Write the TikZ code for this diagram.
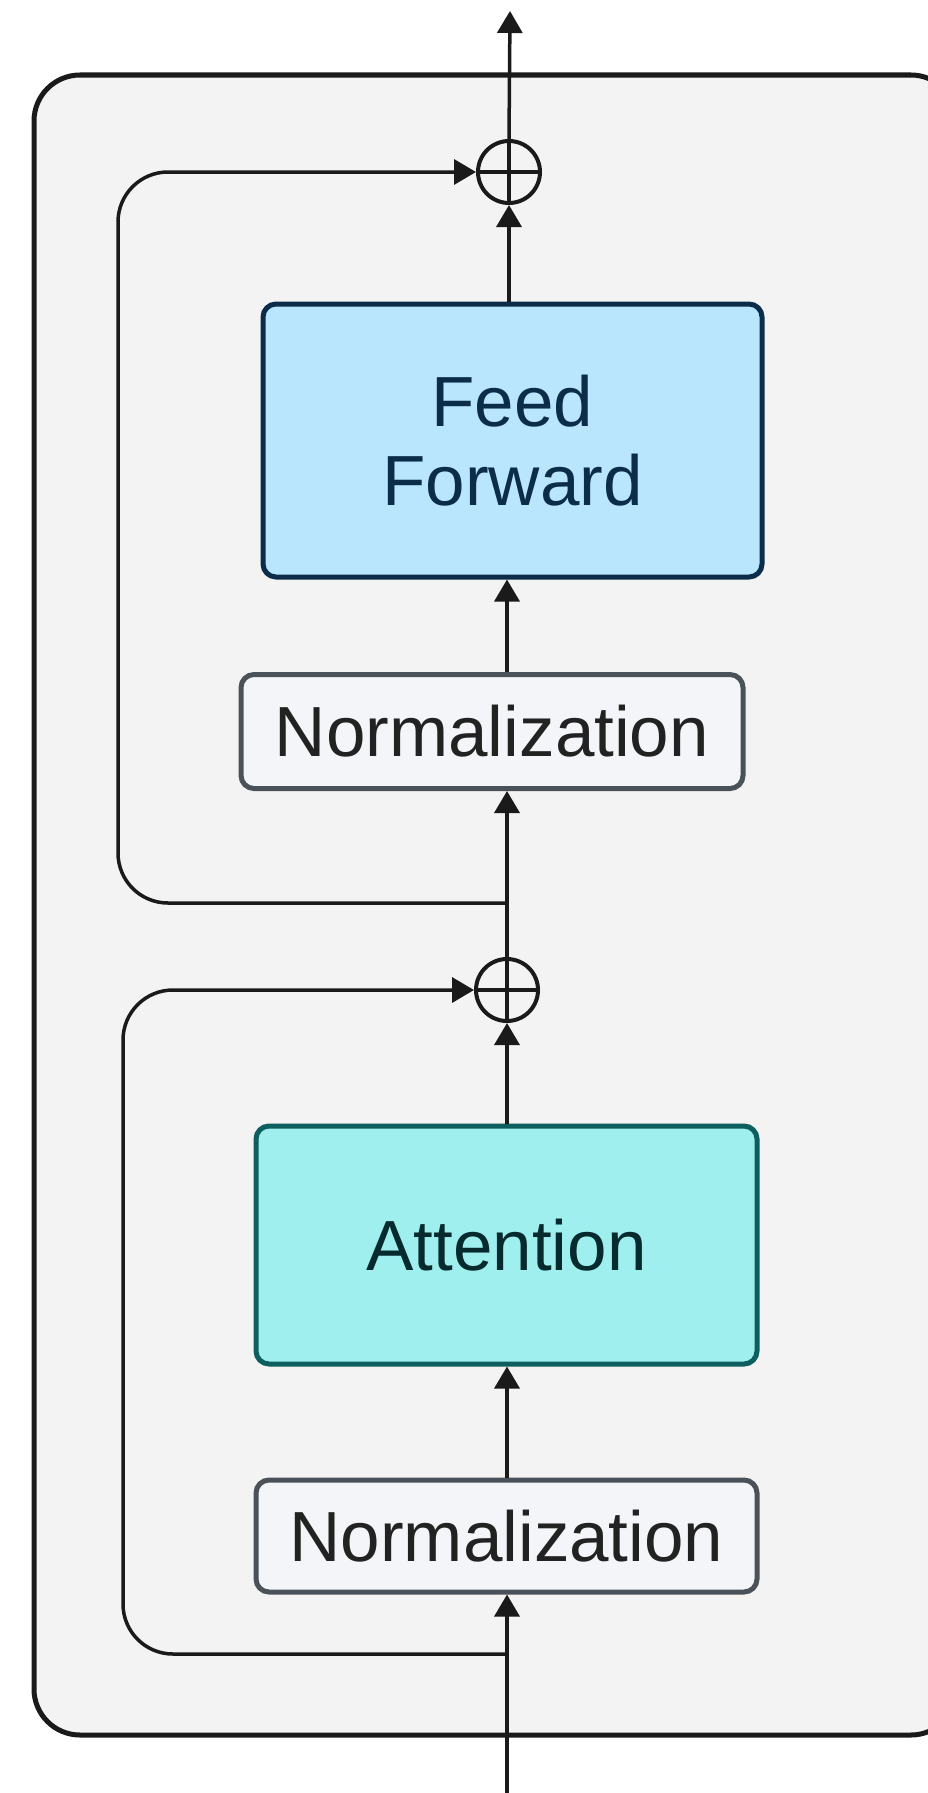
\documentclass[tikz,border=0pt]{standalone}
\usepackage{fontspec}
\setmainfont{Liberation Sans}
\usetikzlibrary{arrows.meta,calc}
\definecolor{bgbox}{HTML}{F3F3F3}
\definecolor{lineblk}{HTML}{1A1A1A}
\definecolor{fffill}{HTML}{BAE6FD}
\definecolor{ffdraw}{HTML}{0B2D4A}
\definecolor{attfill}{HTML}{A0EFEF}
\definecolor{attdraw}{HTML}{0D5E5E}
\definecolor{atttext}{HTML}{062A2D}
\definecolor{normfill}{HTML}{F4F5F8}
\definecolor{normdraw}{HTML}{4B5158}
\definecolor{normtext}{HTML}{222222}
\tikzset{
  outerbox/.style={draw=lineblk, line width=5pt, fill=bgbox, rounded corners=46pt},
  blockbase/.style={rectangle, rounded corners=13pt, line width=5pt, align=center,
    font=\fontsize{71}{79}\selectfont, inner sep=0pt},
  ffbox/.style={blockbase, draw=ffdraw, fill=fffill, text=ffdraw,
    minimum width=499pt, minimum height=273pt},
  attbox/.style={blockbase, draw=attdraw, fill=attfill, text=atttext,
    minimum width=501pt, minimum height=238pt},
  normbox/.style={blockbase, draw=normdraw, fill=normfill, text=normtext,
    minimum width=502pt, minimum height=114pt},
  addnode/.style={circle, draw=lineblk, line width=4pt, minimum size=62pt, inner sep=0pt,
    path picture={\draw[lineblk, line width=4pt]
      (path picture bounding box.north) -- (path picture bounding box.south)
      (path picture bounding box.west) -- (path picture bounding box.east);}},
  conn/.style={draw=lineblk, line width=3.5pt, -{Triangle[length=22pt,width=25pt]}},
}
\begin{document}
\begin{tikzpicture}[x=1pt, y=-1pt]
\useasboundingbox (0,0) rectangle (927,1793);
\draw[outerbox] (34,75) rectangle (957,1735);

\node[addnode] (plus1) at (509,172) {};
\node[ffbox] (ff) at (512.5,440.5) {Feed\\Forward};
\node[normbox] (norm1) at (492,731.5) {Normalization};
\node[addnode] (plus2) at (507,990) {};
\node[attbox] (att) at (506.5,1245) {Attention};
\node[normbox, minimum width=501pt, minimum height=112pt] (norm2) at (506.5,1536) {Normalization};

\coordinate (out) at (510,11);
\coordinate (in) at (507,1793);
\coordinate (j1) at (507,903);
\coordinate (c1) at (118,172);
\coordinate (j2) at (507,1654);
\coordinate (c2) at (123,990);

% main axis
\draw[conn] (in) -- (in |- norm2.south);
\draw[conn] (norm2.north -| in) -- (att.south -| in);
\draw[conn] (att.north -| plus2) -- (plus2.south);
\draw[conn] (plus2.north) -- (plus2.north |- norm1.south);
\draw[conn] (norm1.north -| plus2) -- (ff.south -| plus2);
\draw[conn] (ff.north -| plus1) -- (plus1.south);
\draw[conn] (plus1.north) -- (out);

% residual loops
\draw[conn, rounded corners=50pt] (j1) -| (c1) -- (plus1.west);
\draw[conn, rounded corners=50pt] (j2) -| (c2) -- (plus2.west);
\end{tikzpicture}
\end{document}
